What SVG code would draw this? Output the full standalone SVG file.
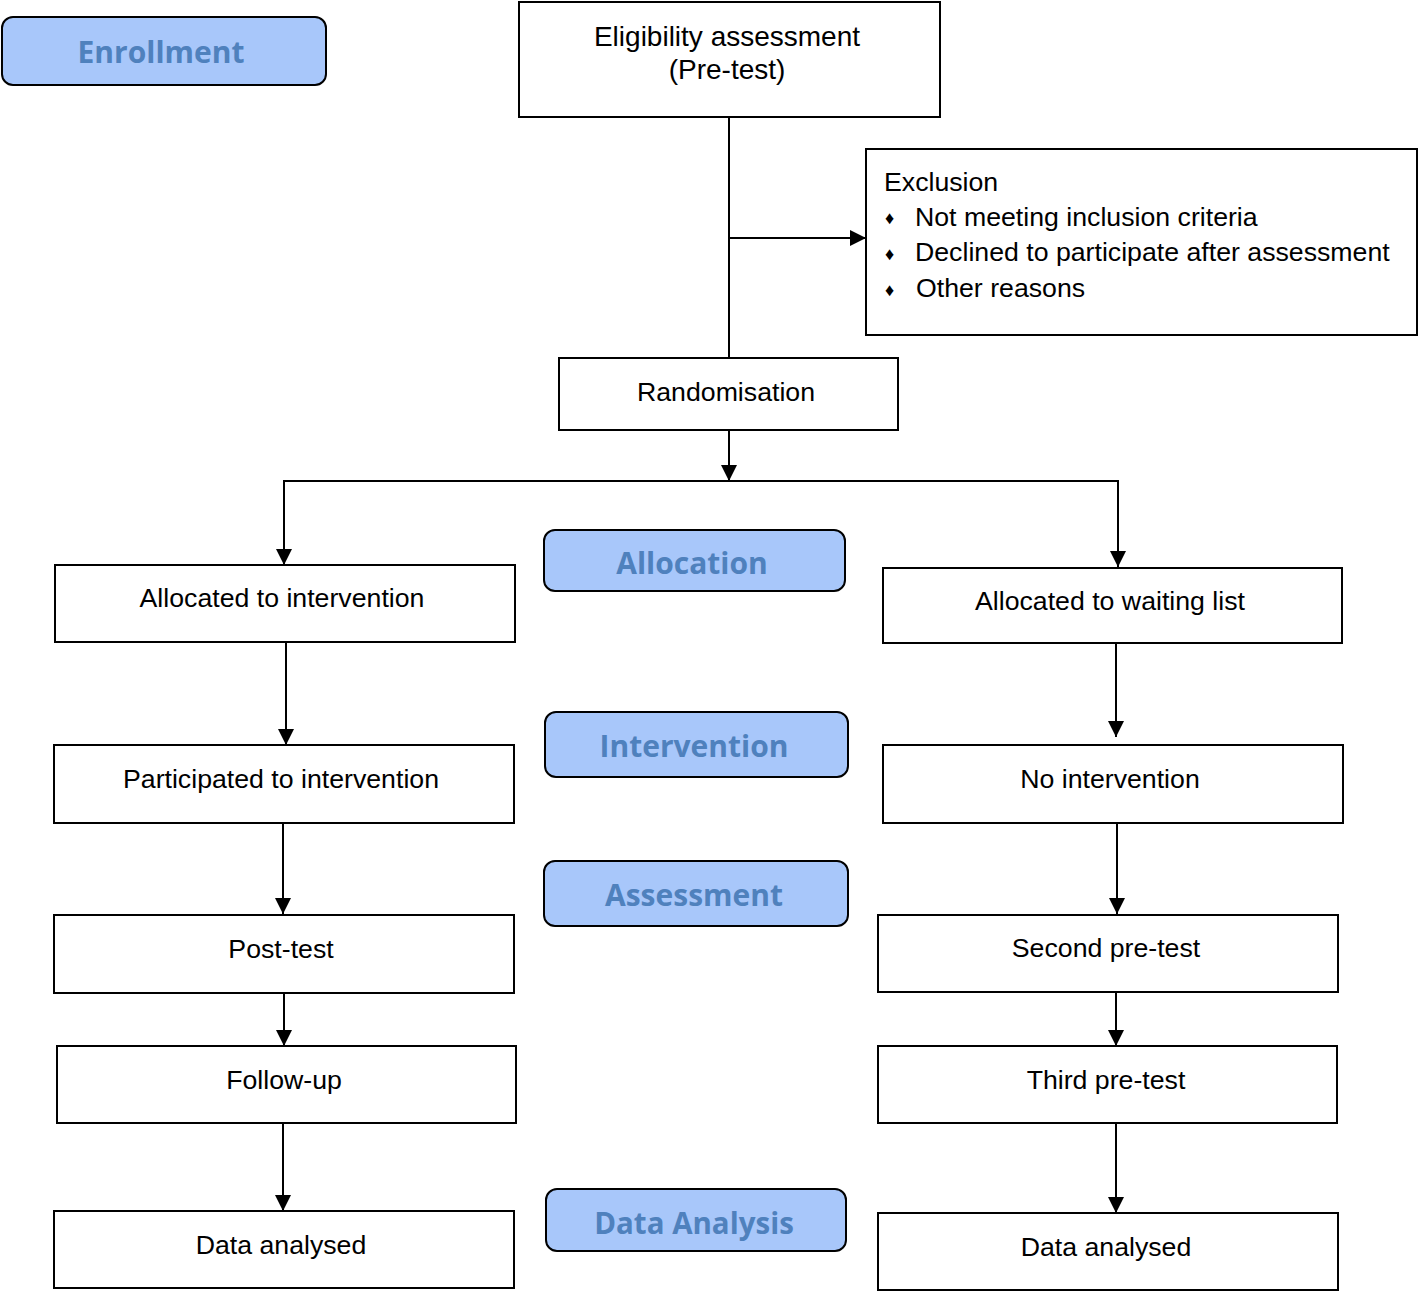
<svg xmlns="http://www.w3.org/2000/svg" width="1422" height="1292" viewBox="0 0 1422 1292">
<style>
.box{fill:#fff;stroke:#000;stroke-width:2}
.lab{fill:#a8c7fa;stroke:#000;stroke-width:2}
.t{font-family:"Liberation Sans",Arial,sans-serif;font-size:26.7px;fill:#000;text-anchor:middle;dominant-baseline:central}
.tl{font-family:"Liberation Sans",Arial,sans-serif;font-size:26.7px;fill:#000;dominant-baseline:central}
.lt{font-family:"Open Sans",sans-serif;font-weight:bold;font-size:30px;fill:#4f81bd;text-anchor:middle;dominant-baseline:central}
.c{fill:none;stroke:#000;stroke-width:2}
</style>
<defs>
<marker id="ah" markerUnits="userSpaceOnUse" markerWidth="16" markerHeight="16" refX="16" refY="8" orient="auto">
<path d="M0,0 L16,8 L0,16 Z" fill="#000"/>
</marker>
</defs>
<g id="connectors">
<line class="c" x1="729" y1="117" x2="729" y2="358"/>
<line class="c" x1="729" y1="238" x2="866" y2="238" marker-end="url(#ah)"/>
<line class="c" x1="729" y1="430" x2="729" y2="481" marker-end="url(#ah)"/>
<polyline class="c" points="284,565 284,481 1118,481 1118,567"/>
<line class="c" x1="284" y1="481" x2="284" y2="565" marker-end="url(#ah)"/>
<line class="c" x1="1118" y1="481" x2="1118" y2="567" marker-end="url(#ah)"/>
<line class="c" x1="286" y1="642" x2="286" y2="745" marker-end="url(#ah)"/>
<line class="c" x1="1116" y1="643" x2="1116" y2="737" marker-end="url(#ah)"/>
<line class="c" x1="283" y1="823" x2="283" y2="914" marker-end="url(#ah)"/>
<line class="c" x1="1117" y1="823" x2="1117" y2="914" marker-end="url(#ah)"/>
<line class="c" x1="284" y1="993" x2="284" y2="1046" marker-end="url(#ah)"/>
<line class="c" x1="1116" y1="992" x2="1116" y2="1046" marker-end="url(#ah)"/>
<line class="c" x1="283" y1="1123" x2="283" y2="1211" marker-end="url(#ah)"/>
<line class="c" x1="1116" y1="1123" x2="1116" y2="1213" marker-end="url(#ah)"/>
</g>
<g id="enrollment"><rect class="lab" x="2" y="17" width="324" height="68" rx="11"/><text class="lt" x="161" y="51">Enrollment</text></g>
<g id="eligibility"><rect class="box" x="519" y="2" width="421" height="115"/><text class="t" x="727" y="36" style="font-size:28px">Eligibility assessment</text><text class="t" x="727" y="69" style="font-size:28px">(Pre-test)</text></g>
<g id="exclusion"><rect class="box" x="866" y="149" width="551" height="186"/>
<text class="tl" x="884" y="182">Exclusion</text>
<text class="tl" x="885" y="218" style="font-size:18px">♦</text><text class="tl" x="915" y="217">Not meeting inclusion criteria</text>
<text class="tl" x="885" y="254" style="font-size:18px">♦</text><text class="tl" x="915" y="252">Declined to participate after assessment</text>
<text class="tl" x="885" y="290" style="font-size:18px">♦</text><text class="tl" x="916" y="288">Other reasons</text>
</g>
<g id="randomisation"><rect class="box" x="559" y="358" width="339" height="72"/><text class="t" x="726" y="392">Randomisation</text></g>
<g id="alloc-int"><rect class="box" x="55" y="565" width="460" height="77"/><text class="t" x="282" y="598">Allocated to intervention</text></g>
<g id="allocation"><rect class="lab" x="544" y="530" width="301" height="61" rx="11"/><text class="lt" x="692" y="562">Allocation</text></g>
<g id="alloc-wait"><rect class="box" x="883" y="568" width="459" height="75"/><text class="t" x="1110" y="601">Allocated to waiting list</text></g>
<g id="participated"><rect class="box" x="54" y="745" width="460" height="78"/><text class="t" x="281" y="779">Participated to intervention</text></g>
<g id="intervention"><rect class="lab" x="545" y="712" width="303" height="65" rx="11"/><text class="lt" x="694" y="745">Intervention</text></g>
<g id="no-int"><rect class="box" x="883" y="745" width="460" height="78"/><text class="t" x="1110" y="779">No intervention</text></g>
<g id="assessment"><rect class="lab" x="544" y="861" width="304" height="65" rx="11"/><text class="lt" x="694" y="894">Assessment</text></g>
<g id="post-test"><rect class="box" x="54" y="915" width="460" height="78"/><text class="t" x="281" y="949">Post-test</text></g>
<g id="second"><rect class="box" x="878" y="915" width="460" height="77"/><text class="t" x="1106" y="948">Second pre-test</text></g>
<g id="follow-up"><rect class="box" x="57" y="1046" width="459" height="77"/><text class="t" x="284" y="1080">Follow-up</text></g>
<g id="third"><rect class="box" x="878" y="1046" width="459" height="77"/><text class="t" x="1106" y="1080">Third pre-test</text></g>
<g id="data-left"><rect class="box" x="54" y="1211" width="460" height="77"/><text class="t" x="281" y="1245">Data analysed</text></g>
<g id="data-analysis"><rect class="lab" x="546" y="1189" width="300" height="62" rx="11"/><text class="lt" x="694" y="1222" style="font-size:29.5px">Data Analysis</text></g>
<g id="data-right"><rect class="box" x="878" y="1213" width="460" height="77"/><text class="t" x="1106" y="1247">Data analysed</text></g>
</svg>
